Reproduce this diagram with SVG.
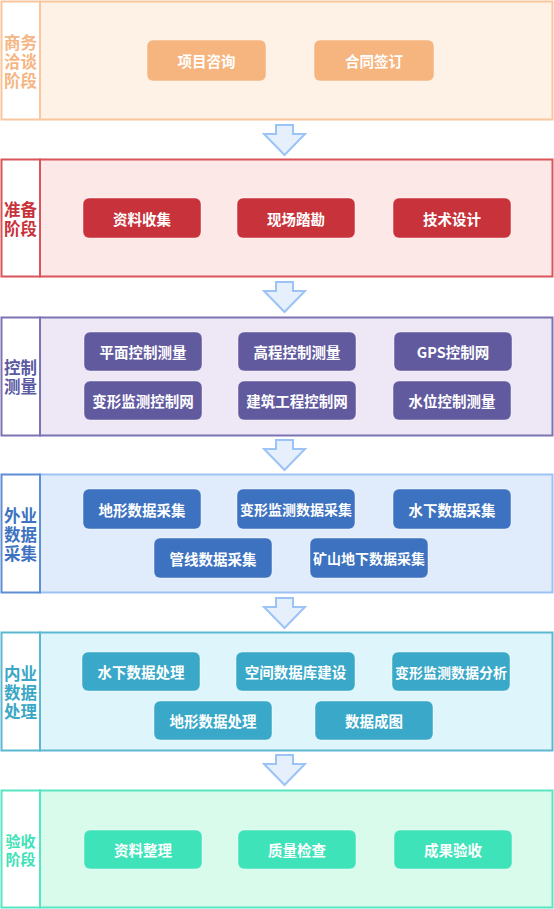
<svg xmlns="http://www.w3.org/2000/svg" width="554" height="909" viewBox="0 0 554 909">
<style>
.lab{font-family:"Microsoft YaHei","Noto Sans CJK SC","Noto Sans",sans-serif;font-weight:bold;font-size:16.5px;text-anchor:middle;dominant-baseline:central}
.nt{font-family:"Microsoft YaHei","Noto Sans CJK SC","Noto Sans",sans-serif;font-weight:bold;font-size:14.5px;fill:#fff;text-anchor:middle;dominant-baseline:central}
.sec{stroke-width:2}
.node{stroke:#ffffff;stroke-opacity:0.45;stroke-width:1}
.arr{fill:#E6F0FD;stroke:#9CC3F6;stroke-width:2;stroke-linejoin:miter}
</style>
<rect width="554" height="909" fill="#ffffff"/>

<g id="stage1">
<rect class="sec" x="40" y="1.5" width="512.5" height="118" fill="#FEF1E5" stroke="#F9C69D"/>
<rect class="sec" x="1.5" y="1.5" width="38.5" height="118" fill="#ffffff" stroke="#F9C69D"/>
<text class="lab" fill="#F6B684" x="20.5" y="41.5">商务<tspan x="20.5" dy="19">洽谈</tspan><tspan x="20.5" dy="19">阶段</tspan></text>
</g>
<g id="n-xmzx"><rect class="node" x="147" y="40" width="119" height="41" rx="6" fill="#F6B47E"/><text class="nt" x="206.5" y="60.5">项目咨询</text></g>
<g id="n-htqd"><rect class="node" x="314" y="40" width="120" height="41" rx="6" fill="#F6B47E"/><text class="nt" x="374" y="60.5">合同签订</text></g>

<g id="stage2">
<rect class="sec" x="40" y="159.5" width="512.5" height="117" fill="#FDE8E8" stroke="#D9545B"/>
<rect class="sec" x="1.5" y="159.5" width="38.5" height="117" fill="#ffffff" stroke="#D9545B"/>
<text class="lab" fill="#C8323A" x="20.5" y="209">准备<tspan x="20.5" dy="19">阶段</tspan></text>
</g>
<g id="n-zlsj"><rect class="node" x="83" y="198" width="118" height="40" rx="6" fill="#C8323A"/><text class="nt" x="142" y="218">资料收集</text></g>
<g id="n-xctk"><rect class="node" x="237" y="198" width="118" height="40" rx="6" fill="#C8323A"/><text class="nt" x="296" y="218">现场踏勘</text></g>
<g id="n-jssj"><rect class="node" x="393" y="198" width="118" height="40" rx="6" fill="#C8323A"/><text class="nt" x="452" y="218">技术设计</text></g>

<g id="stage3">
<rect class="sec" x="40" y="317.5" width="512.5" height="118" fill="#EEE7F5" stroke="#7C74B2"/>
<rect class="sec" x="1.5" y="317.5" width="38.5" height="118" fill="#ffffff" stroke="#7C74B2"/>
<text class="lab" fill="#5A5BA2" x="20.5" y="367">控制<tspan x="20.5" dy="19">测量</tspan></text>
</g>
<g id="n-pmkz"><rect class="node" x="84" y="332" width="118" height="39" rx="6" fill="#625A9F"/><text class="nt" x="143" y="351.5">平面控制测量</text></g>
<g id="n-gckz"><rect class="node" x="238" y="332" width="118" height="39" rx="6" fill="#625A9F"/><text class="nt" x="297" y="351.5">高程控制测量</text></g>
<g id="n-gps"><rect class="node" x="394" y="332" width="118" height="39" rx="6" fill="#625A9F"/><text class="nt" x="453" y="351.5">GPS控制网</text></g>
<g id="n-bxjc"><rect class="node" x="84" y="381" width="118" height="39" rx="6" fill="#625A9F"/><text class="nt" x="143" y="400.5">变形监测控制网</text></g>
<g id="n-jzgc"><rect class="node" x="238" y="381" width="118" height="39" rx="6" fill="#625A9F"/><text class="nt" x="297" y="400.5">建筑工程控制网</text></g>
<g id="n-swkz"><rect class="node" x="393" y="381" width="118" height="39" rx="6" fill="#625A9F"/><text class="nt" x="452" y="400.5">水位控制测量</text></g>

<g id="stage4">
<rect class="sec" x="40" y="474.5" width="512.5" height="118" fill="#E0ECFC" stroke="#9DC3F4"/>
<rect class="sec" x="1.5" y="474.5" width="38.5" height="118" fill="#ffffff" stroke="#5E8ED4"/>
<text class="lab" fill="#3D72C0" x="20.5" y="514.5">外业<tspan x="20.5" dy="19">数据</tspan><tspan x="20.5" dy="19">采集</tspan></text>
</g>
<g id="n-dxsj"><rect class="node" x="83" y="489" width="118" height="40" rx="6" fill="#3D72C0"/><text class="nt" x="142" y="509">地形数据采集</text></g>
<g id="n-bxsj"><rect class="node" x="237" y="489" width="118" height="40" rx="6" fill="#3D72C0"/><text class="nt" x="296" y="509" style="font-size:14px">变形监测数据采集</text></g>
<g id="n-sxsj"><rect class="node" x="393" y="489" width="118" height="40" rx="6" fill="#3D72C0"/><text class="nt" x="452" y="509">水下数据采集</text></g>
<g id="n-gxsj"><rect class="node" x="154" y="538" width="118" height="40" rx="6" fill="#3D72C0"/><text class="nt" x="213" y="558">管线数据采集</text></g>
<g id="n-ksdx"><rect class="node" x="310" y="538" width="118" height="40" rx="6" fill="#3D72C0"/><text class="nt" x="369" y="558" style="font-size:14px">矿山地下数据采集</text></g>

<g id="stage5">
<rect class="sec" x="40" y="632.5" width="512.5" height="118" fill="#DEF6FB" stroke="#5CB8D0"/>
<rect class="sec" x="1.5" y="632.5" width="38.5" height="118" fill="#ffffff" stroke="#5CB8D0"/>
<text class="lab" fill="#3AA7C6" x="20.5" y="672.5">内业<tspan x="20.5" dy="19">数据</tspan><tspan x="20.5" dy="19">处理</tspan></text>
</g>
<g id="n-sxcl"><rect class="node" x="82" y="652" width="118" height="39" rx="6" fill="#3AA8C8"/><text class="nt" x="141" y="671.5">水下数据处理</text></g>
<g id="n-kjsj"><rect class="node" x="236" y="652" width="119" height="39" rx="6" fill="#3AA8C8"/><text class="nt" x="295.5" y="671.5">空间数据库建设</text></g>
<g id="n-bxfx"><rect class="node" x="392" y="652" width="118" height="39" rx="6" fill="#3AA8C8"/><text class="nt" x="451" y="671.5" style="font-size:14px">变形监测数据分析</text></g>
<g id="n-dxcl"><rect class="node" x="154" y="701" width="118" height="39" rx="6" fill="#3AA8C8"/><text class="nt" x="213" y="720.5">地形数据处理</text></g>
<g id="n-sjct"><rect class="node" x="315" y="701" width="118" height="39" rx="6" fill="#3AA8C8"/><text class="nt" x="374" y="720.5">数据成图</text></g>

<g id="stage6">
<rect class="sec" x="40" y="790.5" width="512.5" height="117" fill="#D8FBEC" stroke="#58E6C2"/>
<rect class="sec" x="1.5" y="790.5" width="38.5" height="117" fill="#ffffff" stroke="#58E6C2"/>
<text class="lab" fill="#3EE2B6" x="20.5" y="840" style="font-size:15px">验收<tspan x="20.5" dy="18">阶段</tspan></text>
</g>
<g id="n-zlzl"><rect class="node" x="84" y="830" width="118" height="39" rx="6" fill="#3EE3B9"/><text class="nt" x="143" y="849.5">资料整理</text></g>
<g id="n-zljc"><rect class="node" x="238" y="830" width="118" height="39" rx="6" fill="#3EE3B9"/><text class="nt" x="297" y="849.5">质量检查</text></g>
<g id="n-cgys"><rect class="node" x="394" y="830" width="118" height="39" rx="6" fill="#3EE3B9"/><text class="nt" x="453" y="849.5">成果验收</text></g>

<g id="connectors">
<path class="arr" d="M276 125 H293 V134 H305 L284.5 155 L264 134 H276 Z"/>
<path class="arr" d="M276 282 H293 V291 H305 L284.5 312 L264 291 H276 Z"/>
<path class="arr" d="M276 440 H293 V449 H305 L284.5 470 L264 449 H276 Z"/>
<path class="arr" d="M276 598 H293 V607 H305 L284.5 628 L264 607 H276 Z"/>
<path class="arr" d="M276 755 H293 V764 H305 L284.5 785 L264 764 H276 Z"/>
</g>
</svg>
